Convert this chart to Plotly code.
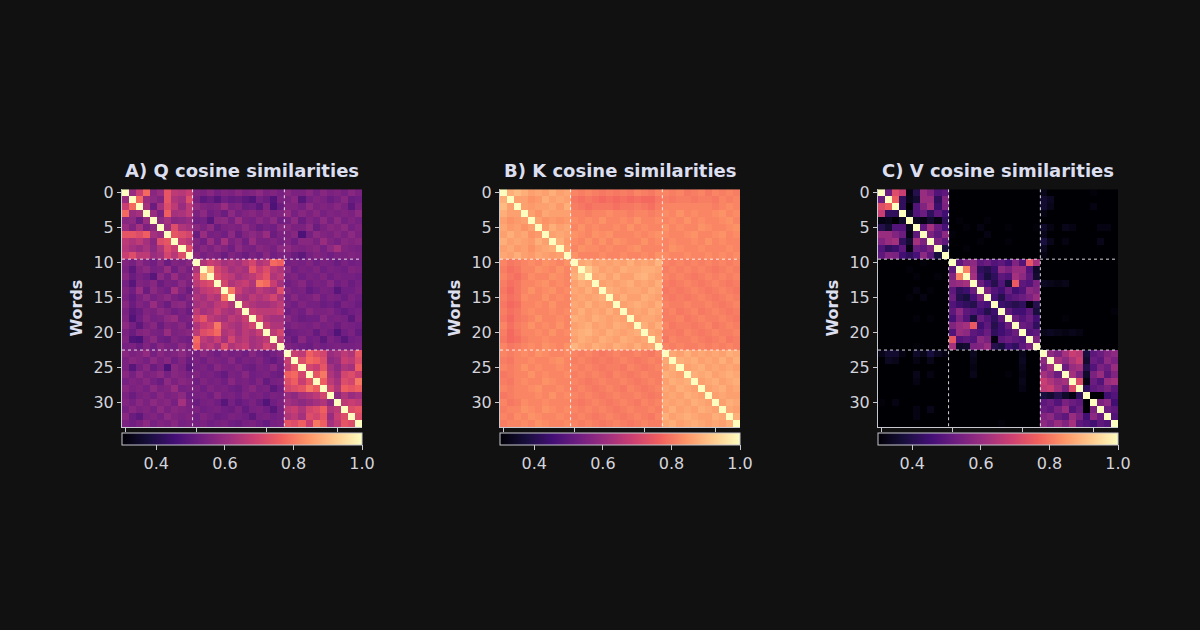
import numpy as np
import plotly.graph_objects as go

# Lower triangles of the 34x34 cosine-similarity matrices, in hundredths.
# Row i holds columns 0..i-1; "|" separates the word groups (0-9, 10-22, 23-33).
# The diagonal is 1.0 and the upper triangle mirrors the lower one.
Q_ROWS = [
    "",
    "60",
    "68 78",
    "78 60 62",
    "57 58 52 60",
    "60 56 62 55 58",
    "74 74 72 76 62 60",
    "66 64 66 62 57 72 74",
    "65 62 60 63 58 64 72 68",
    "68 72 66 66 60 62 70 65 72",
    "56 54 58 55 53 57 52 56 55 57 |",
    "55 50 56 58 54 55 60 53 57 54 | 64",
    "57 52 55 53 49 58 54 60 55 56 | 68 88",
    "54 49 56 55 57 52 55 54 58 55 | 66 70 72",
    "56 53 60 52 58 55 53 62 56 52 | 62 66 68 70",
    "55 51 55 58 54 56 58 55 53 56 | 64 62 66 64 80",
    "57 52 56 54 60 55 52 57 58 54 | 62 64 62 66 68 64",
    "55 50 52 56 55 58 56 53 55 52 | 66 62 64 68 64 62 66",
    "56 48 53 57 54 55 58 60 54 55 | 70 74 66 64 62 66 64 68",
    "58 54 50 55 57 52 56 55 57 53 | 64 68 70 80 66 64 62 66 70",
    "55 52 56 57 55 54 60 55 56 57 | 66 72 74 78 64 66 62 66 64 68",
    "56 48 47 55 58 53 52 56 54 53 | 78 66 64 68 62 70 64 66 62 64 66",
    "54 55 52 56 53 57 55 54 58 55 | 76 64 66 62 72 64 66 68 62 64 70 66",
    "57 55 56 59 54 57 55 56 58 55 | 54 57 55 53 56 54 55 53 57 54 52 54 56 |",
    "55 57 56 54 58 55 57 53 56 52 | 55 53 56 55 54 57 53 55 54 56 53 51 54 | 68",
    "55 49 54 57 52 55 47 57 55 50 | 54 55 53 57 55 54 56 53 52 55 54 57 53 | 66 72",
    "57 54 58 55 56 58 54 57 56 54 | 56 54 55 53 51 55 54 57 53 54 55 53 52 | 76 78 70",
    "54 56 55 57 54 52 58 55 57 56 | 53 56 54 55 53 57 54 55 53 56 51 54 55 | 72 76 68 74",
    "57 55 56 54 58 55 56 60 54 55 | 55 53 56 54 55 53 52 55 57 54 55 50 53 | 70 72 74 80 76",
    "55 52 55 56 54 57 55 56 58 53 | 54 55 53 57 54 55 53 56 54 55 53 55 54 | 60 58 62 64 66 70",
    "56 54 57 55 58 56 57 54 62 55 | 52 54 55 53 49 54 51 53 55 52 48 53 55 | 62 60 58 60 62 64 58",
    "54 57 55 56 54 58 55 57 56 55 | 55 53 54 55 53 52 55 51 54 55 53 49 54 | 66 68 64 70 72 76 64 66",
    "57 52 50 55 56 54 58 56 55 56 | 53 56 54 52 53 55 54 53 50 54 55 53 54 | 64 66 62 72 70 74 60 68 72",
    "55 53 55 58 54 56 55 57 54 55 | 54 55 53 54 55 53 52 54 55 53 51 54 55 | 74 72 76 68 80 76 62 66 74 72",
]

K_ROWS = [
    "",
    "88",
    "90 86",
    "88 86 86",
    "86 84 85 86",
    "87 85 86 84 86",
    "86 88 86 87 84 85",
    "88 86 87 86 85 88 86",
    "86 87 85 86 84 86 87 88",
    "87 86 88 86 85 87 86 85 86",
    "82 80 81 82 83 82 84 83 82 84 |",
    "81 79 80 82 82 84 83 82 84 82 | 87",
    "82 80 79 81 83 82 82 84 83 82 | 88 92",
    "81 79 80 82 82 83 84 82 83 82 | 86 88 87",
    "80 78 80 82 84 82 83 84 82 83 | 87 86 88 86",
    "81 79 80 83 82 82 84 82 83 82 | 86 87 86 87 88",
    "80 78 79 82 82 83 82 84 82 82 | 87 86 88 86 87 86",
    "81 79 80 82 83 82 82 83 82 83 | 86 88 86 87 86 88 86",
    "80 78 80 81 82 84 82 82 83 82 | 88 87 86 88 87 86 87 86",
    "82 79 81 82 84 82 83 82 84 82 | 86 87 88 86 87 86 88 87 86",
    "81 78 80 82 82 83 82 84 82 83 | 87 88 89 87 86 88 87 86 87 88",
    "80 78 79 81 82 82 83 82 82 82 | 86 88 87 86 88 87 86 88 87 86 87",
    "82 80 81 82 83 82 84 83 82 84 | 89 87 86 88 87 86 88 87 86 88 86 87",
    "82 81 82 83 82 84 83 82 82 83 | 82 81 82 81 80 81 82 81 81 82 81 80 82 |",
    "81 80 82 82 83 82 82 83 84 82 | 81 82 81 80 81 80 81 82 81 80 81 82 81 | 87",
    "82 81 82 84 82 83 82 82 83 82 | 82 81 82 81 80 81 81 80 82 81 80 81 82 | 86 88",
    "80 81 82 82 84 82 83 82 82 83 | 81 82 81 82 81 80 82 81 80 81 82 81 81 | 88 87 86",
    "81 80 82 83 82 82 84 83 82 82 | 82 81 80 81 82 81 81 82 81 80 81 82 81 | 86 88 87 88",
    "82 81 82 82 83 84 82 82 83 82 | 81 82 81 80 81 82 81 80 82 81 80 81 82 | 87 86 88 87 86",
    "80 81 82 82 82 83 82 84 82 83 | 82 81 82 81 80 81 82 81 81 82 81 80 81 | 86 87 86 88 87 86",
    "82 80 81 83 82 82 83 82 82 82 | 81 80 81 82 81 80 81 82 81 80 82 81 82 | 87 86 87 86 88 87 86",
    "81 82 82 84 83 82 84 83 82 83 | 82 81 82 81 82 81 80 81 82 81 81 82 81 | 86 88 86 87 86 88 87 86",
    "82 81 83 82 84 83 82 82 83 82 | 81 82 81 80 81 82 81 80 81 82 81 80 82 | 88 86 87 88 87 86 86 88 87",
    "81 82 82 83 82 84 83 82 82 83 | 82 81 82 81 80 81 82 81 80 81 82 81 81 | 87 88 86 87 88 87 86 87 86 88",
]

V_ROWS = [
    "",
    "52",
    "72 76",
    "68 42 42",
    "32 33 30 35",
    "40 36 48 48 34",
    "60 60 56 52 32 50",
    "56 60 62 42 36 62 55",
    "48 42 44 50 32 52 50 55",
    "50 56 55 45 42 46 58 50 38",
    "28 28 29 28 30 28 31 29 28 28 |",
    "29 28 28 28 31 29 30 28 28 28 | 50",
    "28 28 28 29 30 31 28 29 31 28 | 56 82",
    "28 28 29 28 29 28 30 28 29 28 | 58 60 62",
    "28 28 28 29 30 32 28 31 28 28 | 50 42 44 52",
    "28 29 28 28 31 28 32 29 29 28 | 52 40 38 46 55",
    "28 28 28 28 29 28 28 29 28 28 | 48 44 42 40 48 46",
    "28 28 28 28 28 29 28 28 28 28 | 50 58 50 48 45 40 44",
    "28 28 28 29 28 31 28 31 28 28 | 46 55 48 38 52 48 42 50",
    "28 28 28 28 28 28 28 29 28 28 | 56 60 62 75 45 50 40 45 52",
    "29 28 28 28 29 28 30 28 28 28 | 48 60 58 50 48 52 42 45 48 52",
    "28 28 28 28 29 28 30 28 28 28 | 74 48 50 48 58 55 32 50 52 50 48",
    "28 28 28 29 28 31 28 30 28 28 | 62 35 36 55 56 60 40 38 45 42 50 55",
    "33 36 36 32 28 35 33 38 34 32 | 28 30 28 34 28 28 28 29 28 28 33 28 28 |",
    "30 34 33 30 28 32 28 33 30 28 | 28 29 28 33 28 28 28 28 28 28 34 28 28 | 58",
    "28 29 28 28 28 30 28 30 28 28 | 28 28 28 32 28 28 28 28 28 28 33 28 28 | 55 62",
    "30 29 30 28 28 33 29 32 28 28 | 28 28 28 33 28 28 28 28 31 28 32 28 28 | 62 58 52",
    "29 28 28 28 28 32 28 28 28 28 | 28 28 28 30 28 28 28 28 28 28 33 28 28 | 68 64 60 62",
    "28 28 28 28 28 30 28 29 28 28 | 28 28 28 29 28 28 28 28 28 28 32 28 28 | 66 68 62 55 72",
    "28 28 28 28 28 28 28 28 28 28 | 28 28 28 28 28 28 28 28 28 28 28 28 28 | 38 36 40 35 32 42",
    "31 28 32 28 28 28 28 28 28 28 | 28 30 28 28 28 28 28 28 28 28 28 28 28 | 50 52 48 55 52 50 30",
    "28 28 28 28 28 32 28 33 30 28 | 28 28 28 29 28 28 28 28 28 28 28 28 28 | 52 50 55 60 48 52 30 55",
    "28 28 28 28 28 32 28 30 28 28 | 28 28 28 28 28 28 28 28 28 28 29 28 28 | 56 58 52 50 60 55 45 58 52",
    "28 28 28 28 28 28 29 29 30 28 | 28 28 28 28 28 28 28 31 28 28 28 28 28 | 58 55 60 56 62 50 48 45 50 48",
]

TITLES = ["A) Q cosine similarities", "B) K cosine similarities", "C) V cosine similarities"]
GROUP_EDGES = [9.5, 22.5]
Y_TICKS = [0, 5, 10, 15, 20, 25, 30]
X_TICKS = [0, 10, 20, 30]
CBAR_TICKS = [0.4, 0.6, 0.8, 1.0]

W, H = 1200, 630
BG = "#111111"
TEXT = "#dcdff0"
TICK = "#d4d4dc"
LINE = "#c8c8d0"
FONT = "DejaVu Sans"


def _build(rows: list[str]) -> np.ndarray:
    n = len(rows)
    m = np.ones((n, n))
    for i, r in enumerate(rows):
        vals = [int(v) / 100 for v in r.replace("|", " ").split()]
        assert len(vals) == i, (i, len(vals))
        m[i, :i] = vals
        m[:i, i] = vals
    return m


matrices = [_build(Q_ROWS), _build(K_ROWS), _build(V_ROWS)]
n = matrices[0].shape[0]

# Panel placement in pixels.
lefts = [122, 500, 878]
size = 240
top, bottom = 185, 425

fig = go.Figure()

for k, (title, z) in enumerate(zip(TITLES, matrices)):
    ax = "" if k == 0 else str(k + 1)
    x0, x1 = lefts[k] / W, (lefts[k] + size) / W
    cx = (x0 + x1) / 2

    fig.add_trace(go.Heatmap(
        z=z,
        x=list(range(n)),
        y=list(range(n)),
        xaxis=f"x{ax}",
        yaxis=f"y{ax}",
        colorscale="Magma",
        zmin=0.3,
        zmax=1.0,
        colorbar=dict(
            orientation="h",
            x=cx, xanchor="center",
            y=(H - 431) / H, yanchor="top",
            len=size, lenmode="pixels",
            thickness=12,
            xpad=0, ypad=0,
            outlinecolor=LINE, outlinewidth=1,
            tickvals=CBAR_TICKS,
            ticktext=[f"{v:.1f}" for v in CBAR_TICKS],
            ticks="outside", ticklen=5, tickcolor=LINE,
            tickfont=dict(family=FONT, size=16, color=TICK),
        ),
        hovertemplate="word %{y} vs %{x}<br>cos = %{z:.2f}<extra></extra>",
    ))

    fig.update_layout({
        f"xaxis{ax}": dict(
            domain=[x0, x1], anchor=f"y{ax}",
            range=[-0.5, n - 0.5],
            tickvals=X_TICKS, showticklabels=False,
            ticks="outside", ticklen=4, tickcolor=LINE,
            showline=True, linecolor=LINE, linewidth=1,
            showgrid=False, zeroline=False,
        ),
        f"yaxis{ax}": dict(
            domain=[(H - bottom) / H, (H - top) / H], anchor=f"x{ax}",
            range=[n - 0.5, -0.5],
            tickvals=Y_TICKS,
            ticks="outside", ticklen=4, tickcolor=LINE,
            tickfont=dict(family=FONT, size=16, color=TICK),
            showline=True, linecolor=LINE, linewidth=1,
            showgrid=False, zeroline=False,
            title=dict(text="<b>Words</b>", standoff=6,
                       font=dict(family=FONT, size=16, color=TEXT)),
        ),
    })

    # Dotted group separators.
    for e in GROUP_EDGES:
        for sx0, sy0, sx1, sy1 in [(e, -0.5, e, n - 0.5), (-0.5, e, n - 0.5, e)]:
            fig.add_shape(
                type="line", xref=f"x{ax}", yref=f"y{ax}",
                x0=sx0, y0=sy0, x1=sx1, y1=sy1,
                line=dict(color="rgba(255,255,255,0.85)", width=1, dash="dot"),
            )

    fig.add_annotation(
        text=f"<b>{title}</b>", xref="paper", yref="paper",
        x=cx, y=(H - 166) / H, xanchor="center", yanchor="middle",
        showarrow=False, font=dict(family=FONT, size=18, color=TEXT),
    )

fig.update_layout(
    width=W, height=H,
    margin=dict(l=0, r=0, t=0, b=0),
    paper_bgcolor=BG, plot_bgcolor=BG,
    font=dict(family=FONT, color=TICK),
    showlegend=False,
)

fig.write_html(
    "out.html",
    config={"displayModeBar": False},
    post_script="document.body.style.margin='0';document.body.style.background='#111111';",
)
